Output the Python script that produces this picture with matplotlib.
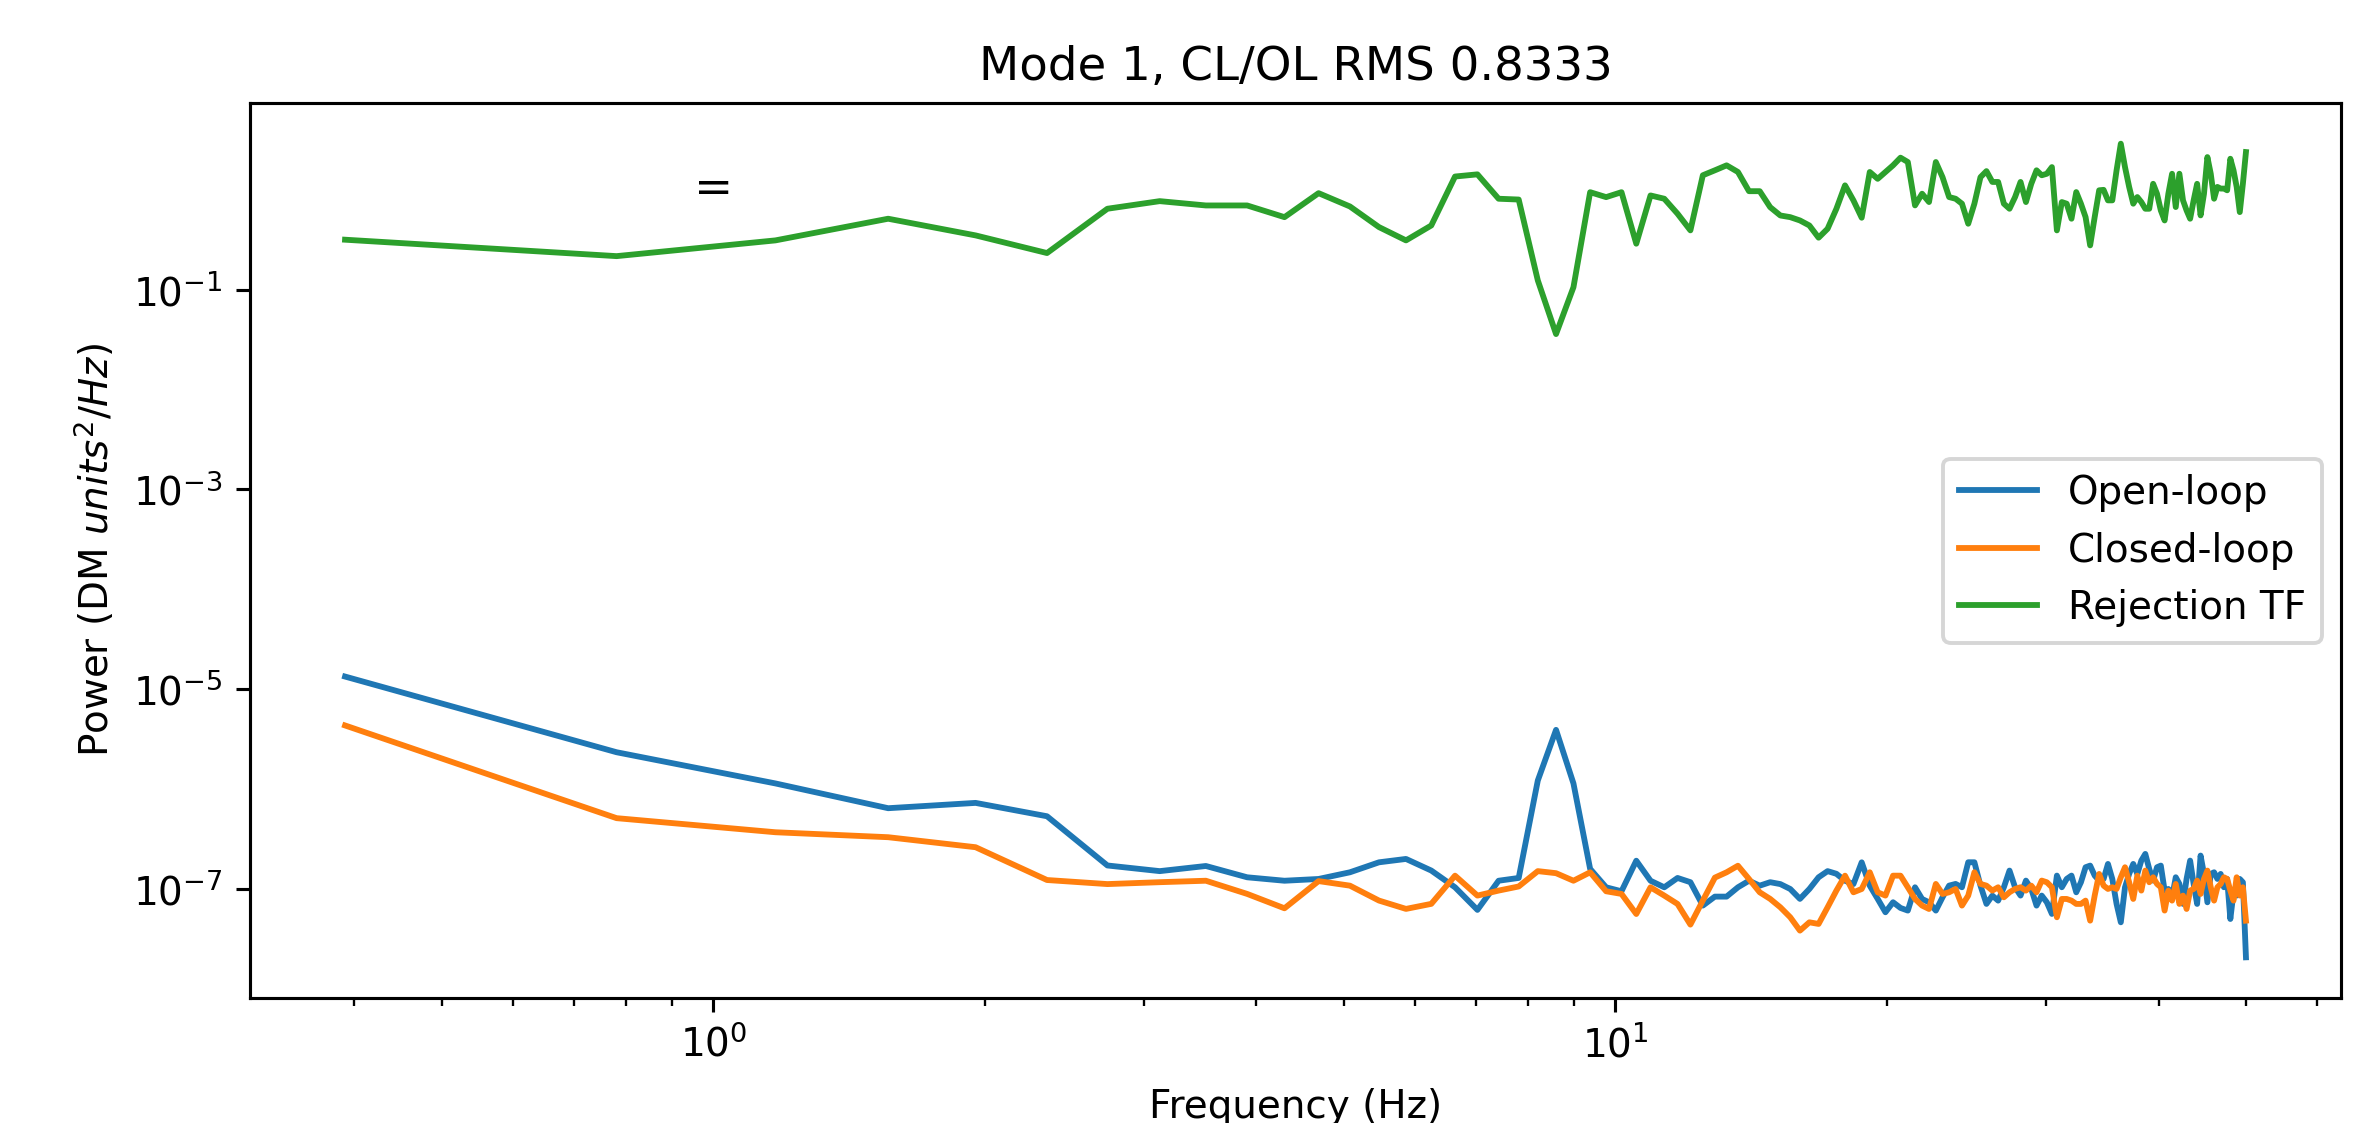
import numpy as np
import matplotlib
matplotlib.use("Agg")
import matplotlib.pyplot as plt
from matplotlib.ticker import NullLocator

# FFT bins, 128 bins up to 50 Hz
freqs = np.arange(1, 129) * 50 / 128

# PSD values, in units of 1e-7 DM units^2/Hz
open_loop = np.array([
    134, 23.4, 11.4, 6.44, 7.28, 5.35, 1.72, 1.51, 1.70, 1.31, 1.21, 1.26, 1.47, 1.85, 2.00, 1.53,
    1.04, 0.618, 1.21, 1.29, 12.2, 39.2, 11.4, 1.59, 1.04, 0.949, 1.92, 1.21, 1.04, 1.29, 1.17, 0.682,
    0.839, 0.839, 1.04, 1.21, 1.08, 1.17, 1.12, 1.00, 0.796, 1.00, 1.31, 1.51, 1.42, 1.21, 1.12, 1.85,
    1.08, 0.796, 0.585, 0.737, 0.646, 0.608, 1.041, 0.795, 0.736, 0.608, 0.826, 1.081, 1.124, 1.041,
    1.852, 1.852, 1.081, 0.709, 0.859, 0.765, 1.041, 1.529, 1.041, 0.859, 1.214, 1.001, 0.682, 0.859,
    0.736, 0.563, 1.362, 1.041, 1.261, 1.362, 0.927, 1.168, 1.651, 1.715, 1.362, 1.214, 1.261, 1.782,
    1.261, 0.709, 0.464, 1.041, 1.415, 1.782, 1.415, 1.925, 2.245, 1.588, 1.214, 1.651, 1.715, 0.964,
    1.001, 0.826, 1.311, 1.124, 0.709, 1.261, 1.925, 1.124, 0.709, 2.161, 1.415, 0.736, 1.415, 1.471,
    1.261, 1.415, 1.041, 1.261, 0.501, 0.927, 0.859, 1.261, 1.168, 0.207,
]) * 1e-7

closed_loop = np.array([
    43.4, 5.12, 3.70, 3.30, 2.62, 1.23, 1.12, 1.17, 1.21, 0.893, 0.641, 1.20, 1.08, 0.766, 0.632, 0.710,
    1.36, 0.859, 0.964, 1.06, 1.51, 1.44, 1.21, 1.47, 0.949, 0.893, 0.562, 1.04, 0.859, 0.708, 0.440, 0.766,
    1.30, 1.47, 1.71, 1.26, 0.927, 0.796, 0.656, 0.521, 0.383, 0.464, 0.447, 0.656, 0.964, 1.36, 0.927, 1.00,
    1.47, 0.927, 0.859, 1.36, 1.36, 1.04, 0.795, 0.682, 0.631, 1.124, 0.892, 0.927, 1.001, 0.682,
    0.859, 1.471, 1.124, 1.081, 0.964, 1.041, 0.826, 0.927, 1.001, 1.041, 0.964, 1.081, 0.927, 1.214,
    1.168, 1.041, 0.521, 0.795, 0.795, 0.765, 0.709, 0.709, 0.765, 0.482, 0.859, 1.415, 1.081, 1.001,
    1.041, 1.001, 1.311, 1.651, 1.168, 0.795, 1.362, 0.964, 1.529, 1.168, 1.311, 1.124, 1.041, 0.608,
    0.964, 0.765, 1.124, 0.709, 0.859, 0.631, 0.964, 1.001, 1.214, 0.892, 1.261, 1.529, 1.041, 0.765,
    1.041, 1.124, 1.311, 1.261, 0.964, 0.765, 1.311, 0.859, 1.041, 0.482,
]) * 1e-7

rejection_tf = np.array([
    0.317, 0.217, 0.312, 0.514, 0.35, 0.233, 0.647, 0.771, 0.698, 0.698, 0.533, 0.927, 0.682, 0.424, 0.312, 0.44,
    1.36, 1.43, 0.815, 0.80, 0.124, 0.036, 0.106, 0.948, 0.846, 0.948, 0.289, 0.879, 0.815, 0.577, 0.393, 1.40,
    1.57, 1.76, 1.51, 0.97, 0.97, 0.671, 0.554, 0.533, 0.494, 0.44, 0.332, 0.408, 0.647, 1.11, 0.784, 0.526,
    1.51, 1.29, 1.51, 1.76, 2.10, 1.90, 0.699, 0.915, 0.755, 1.90, 1.34, 0.847, 0.815, 0.727,
    0.458, 0.727, 1.34, 1.54, 1.20, 1.20, 0.727, 0.647, 0.847, 1.20, 0.755, 1.15, 1.57, 1.40,
    1.45, 1.69, 0.393, 0.755, 0.727, 0.514, 0.95, 0.727, 0.534, 0.278, 0.534, 0.99, 1.00, 0.785,
    0.785, 1.57, 2.90, 1.69, 1.07, 0.727, 0.847, 0.755, 0.647, 0.647, 1.15, 0.915, 0.622, 0.494,
    0.915, 1.45, 0.673, 1.45, 0.785, 0.622, 0.514, 0.785, 1.15, 0.555, 0.915, 2.13, 1.45, 0.815,
    1.07, 1.03, 1.03, 0.99, 2.05, 1.57, 1.07, 0.599, 1.15, 2.39,
])

mode = 1
rms_ratio = 0.8333
ytick_values = [1e-7, 1e-5, 1e-3, 1e-1]

dpi = 280
fig = plt.figure(figsize=(2362 / dpi, 1123 / dpi), dpi=dpi)
ax = fig.add_axes([250 / 2362, 1 - 998 / 1123, (2341 - 250) / 2362, (998 - 103) / 1123])

ax.loglog(freqs, open_loop, label="Open-loop")
ax.loglog(freqs, closed_loop, label="Closed-loop")
ax.loglog(freqs, rejection_tf, label="Rejection TF")
ax.text(1, 1, "=", ha="center", va="center", fontsize=12)

# only every other decade is labelled on the y axis
ax.set_yticks(ytick_values)
ax.yaxis.set_minor_locator(NullLocator())

ax.set_title(f"Mode {mode}, CL/OL RMS {rms_ratio:.4f}")
ax.set_xlabel("Frequency (Hz)", labelpad=6)
ax.set_ylabel("Power (DM $units^2/Hz$)")
ax.legend(loc="center right")

fig.savefig("out.png", dpi=dpi)
